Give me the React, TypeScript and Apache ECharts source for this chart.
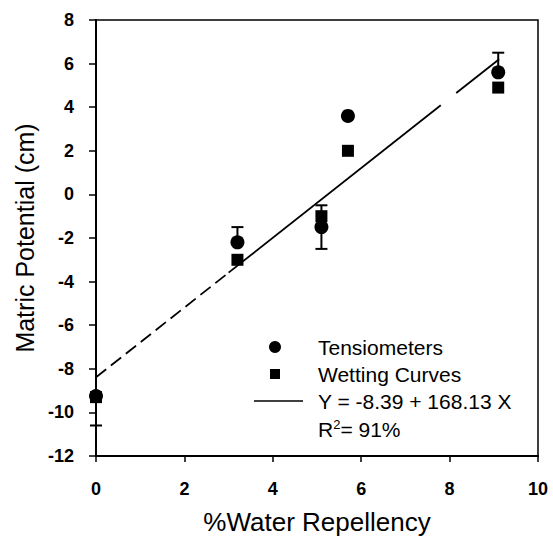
import React, { useEffect, useRef } from "react";
import * as echarts from "echarts";

const tensX = [0, 3.2, 5.1, 5.7, 9.1];
const tensY = [-9.25, -2.2, -1.5, 3.6, 5.6];
const wetX = [0, 3.2, 5.1, 5.7, 9.1];
const wetY = [-9.3, -3.0, -1.0, 2.0, 4.9];
// error bars: x, low, high, caps
const errX = [0, 3.2, 5.1, 9.1];
const errLow = [-10.6, -2.2, -2.5, 5.6];
const errHigh = [-9.25, -1.5, -0.5, 6.5];
const errCapLow = [true, false, true, false];
const errCapHigh = [false, true, true, true];
const fitIntercept = -8.39;
const fitSlope = 1.6;
const fitDashed = [0, 3.0];
const fitSolidA = [3.0, 7.8];
const fitSolidB = [8.15, 9.12];
const xTicks = [0, 10, 2];
const yTicks = [-12, 8, 2];

const fit = (xs: number[]) => xs.map((x) => [x, fitIntercept + fitSlope * x]);

export default function App() {
  const ref = useRef<HTMLDivElement>(null);
  useEffect(() => {
    const chart = echarts.init(ref.current!, undefined, { renderer: "svg" });
    const font = "Arial, 'Liberation Sans', sans-serif";
    chart.setOption({
      animation: false,
      backgroundColor: "#fff",
      grid: {
        left: 96,
        right: 15,
        top: 20,
        bottom: 84,
        show: true,
        borderColor: "#000",
        borderWidth: 1.5,
        backgroundColor: "transparent",
      },
      xAxis: {
        type: "value",
        min: xTicks[0],
        max: xTicks[1],
        interval: xTicks[2],
        name: "%Water Repellency",
        nameLocation: "middle",
        nameGap: 53,
        nameTextStyle: { fontFamily: font, fontSize: 26, color: "#000" },
        axisLine: { show: true, onZero: false, lineStyle: { color: "#000", width: 2 } },
        axisTick: { show: true, inside: false, length: 6, lineStyle: { color: "#000", width: 1.5 } },
        axisLabel: { margin: 24, fontFamily: font, fontSize: 18, fontWeight: "bold", color: "#000" },
        splitLine: { show: false },
      },
      yAxis: {
        type: "value",
        min: yTicks[0],
        max: yTicks[1],
        interval: yTicks[2],
        name: "Matric Potential (cm)",
        nameLocation: "middle",
        nameGap: 58,
        nameRotate: 90,
        nameTextStyle: { fontFamily: font, fontSize: 25, color: "#000" },
        axisLine: { show: true, onZero: false, lineStyle: { color: "#000", width: 2 } },
        axisTick: { show: true, inside: false, length: 7, lineStyle: { color: "#000", width: 1.5 } },
        axisLabel: { margin: 22, fontFamily: font, fontSize: 18, fontWeight: "bold", color: "#000" },
        splitLine: { show: false },
      },
      series: [
        {
          type: "line",
          data: fit(fitDashed),
          symbol: "none",
          lineStyle: { color: "#000", width: 1.8, type: [13, 6] },
          z: 2,
        },
        {
          type: "line",
          data: fit(fitSolidA),
          symbol: "none",
          lineStyle: { color: "#000", width: 1.8 },
          z: 2,
        },
        {
          type: "line",
          data: fit(fitSolidB),
          symbol: "none",
          lineStyle: { color: "#000", width: 1.8 },
          z: 2,
        },
        {
          type: "custom",
          data: errX.map((x, i) => [x, errLow[i], errHigh[i], errCapLow[i] ? 1 : 0, errCapHigh[i] ? 1 : 0]),
          renderItem: (params: any, api: any) => {
            const lo = api.coord([api.value(0), api.value(1)]);
            const hi = api.coord([api.value(0), api.value(2)]);
            const w = 6;
            const children: any[] = [
              { type: "line", shape: { x1: lo[0], y1: lo[1], x2: hi[0], y2: hi[1] }, style: { stroke: "#000", lineWidth: 2 } },
            ];
            if (api.value(3)) children.push({ type: "line", shape: { x1: lo[0] - w, y1: lo[1], x2: lo[0] + w, y2: lo[1] }, style: { stroke: "#000", lineWidth: 2 } });
            if (api.value(4)) children.push({ type: "line", shape: { x1: hi[0] - w, y1: hi[1], x2: hi[0] + w, y2: hi[1] }, style: { stroke: "#000", lineWidth: 2 } });
            return { type: "group", children };
          },
          encode: { x: 0, y: [1, 2] },
          z: 3,
        },
        {
          name: "Wetting Curves",
          type: "scatter",
          data: wetX.map((x, i) => [x, wetY[i]]),
          symbol: "rect",
          symbolSize: 12,
          itemStyle: { color: "#000", opacity: 1 },
          z: 4,
        },
        {
          name: "Tensiometers",
          type: "scatter",
          data: tensX.map((x, i) => [x, tensY[i]]),
          symbol: "circle",
          symbolSize: 14,
          itemStyle: { color: "#000", opacity: 1 },
          z: 5,
        },
      ],
      graphic: [
        { type: "circle", shape: { cx: 275, cy: 347, r: 6 }, style: { fill: "#000" } },
        { type: "rect", shape: { x: 270, y: 369, width: 10, height: 10 }, style: { fill: "#000" } },
        { type: "line", shape: { x1: 254, y1: 401, x2: 303, y2: 401 }, style: { stroke: "#000", lineWidth: 1.5 } },
        { type: "text", x: 318, y: 347, style: { text: "Tensiometers", font: `21px ${font}`, fill: "#000", verticalAlign: "middle" } },
        { type: "text", x: 318, y: 374, style: { text: "Wetting Curves", font: `21px ${font}`, fill: "#000", verticalAlign: "middle" } },
        { type: "text", x: 318, y: 401, style: { text: "Y = -8.39 + 168.13 X", font: `21px ${font}`, fill: "#000", verticalAlign: "middle" } },
        {
          type: "text",
          x: 318,
          y: 429,
          style: {
            text: "R{sup|2}= 91%",
            font: `21px ${font}`,
            fill: "#000",
            verticalAlign: "middle",
            rich: { sup: { fontSize: 13, fontFamily: font, verticalAlign: "top", padding: [0, 0, 9, 0] } },
          },
        },
      ],
    });
    return () => chart.dispose();
  }, []);
  return <div ref={ref} style={{ position: "absolute", left: 0, top: 0, width: 553, height: 540 }} />;
}
